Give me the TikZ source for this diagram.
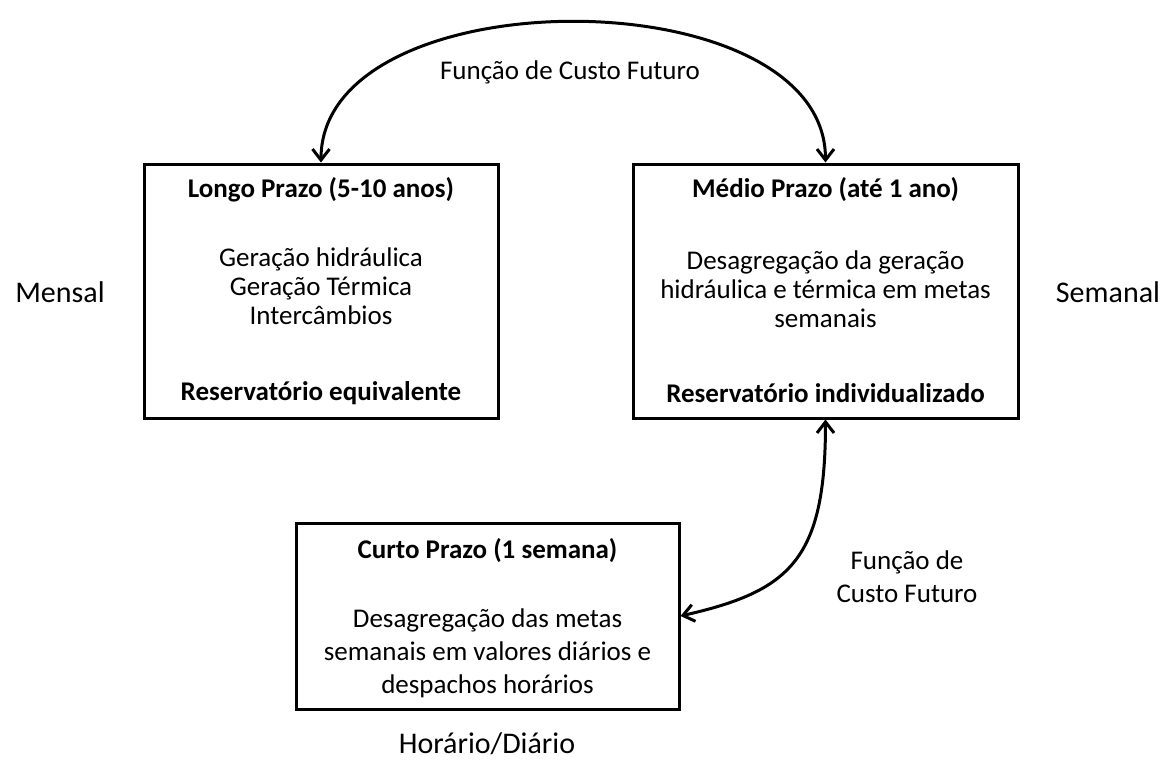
\documentclass[tikz,border=0pt]{standalone}
\usepackage{fontspec}
\setmainfont{Carlito}
\usetikzlibrary{arrows.meta}
\begin{document}
\begin{tikzpicture}[x=1pt,y=-1pt,line width=3pt,
	box/.style={draw,rectangle,inner sep=0pt},
	txt/.style={font=\fontsize{27}{33}\selectfont,align=center,inner sep=0pt},
	tighttxt/.style={font=\fontsize{27}{29}\selectfont,align=center,inner sep=0pt},
	hd/.style={font=\fontsize{27}{33}\selectfont\bfseries,inner sep=0pt},
	side/.style={font=\fontsize{30}{36}\selectfont,inner sep=0pt},
	>={Straight Barb[length=11pt,width=17pt]}]
	\useasboundingbox (0,0) rectangle (1163,760);
	\node[box,minimum width=354pt,minimum height=254pt] (lp) at (321,291) {};
	\node[box,minimum width=385pt,minimum height=254pt] (mp) at (825.5,291) {};
	\node[box,minimum width=383pt,minimum height=186pt] (cp) at (487.5,616) {};
	\node[hd] (lpt) at (321,190) {Longo Prazo (5-10 anos)};
	\node[tighttxt] (lpb) at (321,286) {Geração hidráulica\\Geração Térmica\\Intercâmbios};
	\node[hd] (lpr) at (321,393) {Reservatório equivalente};
	\node[hd] (mpt) at (825.5,190) {Médio Prazo (até 1 ano)};
	\node[tighttxt] (mpb) at (825.5,289) {Desagregação da geração\\hidráulica e térmica em metas\\semanais};
	\node[hd] (mpr) at (825.5,393) {Reservatório individualizado};
	\node[hd] (cpt) at (487.5,551) {Curto Prazo (1 semana)};
	\node[txt] (cpb) at (487.5,653) {Desagregação das metas\\semanais em valores diários e\\despachos horários};
	\node[side] (mensal) at (60,292) {Mensal};
	\node[side] (semanal) at (1108,292) {Semanal};
	\node[side,anchor=base] (horario) at (487,753) {Horário/Diário};
	\node[txt] (fcf1) at (570,72) {Função de Custo Futuro};
	\node[txt] (fcf2) at (907,577) {Função de\\Custo Futuro};
	\draw[<->] (lp.north) .. controls +(0,-187) and +(0,-187) .. (mp.north);
	\draw[<->] (cp.east) .. controls +(110,-25) and +(0,140) .. (mp.south);
\end{tikzpicture}
\end{document}
